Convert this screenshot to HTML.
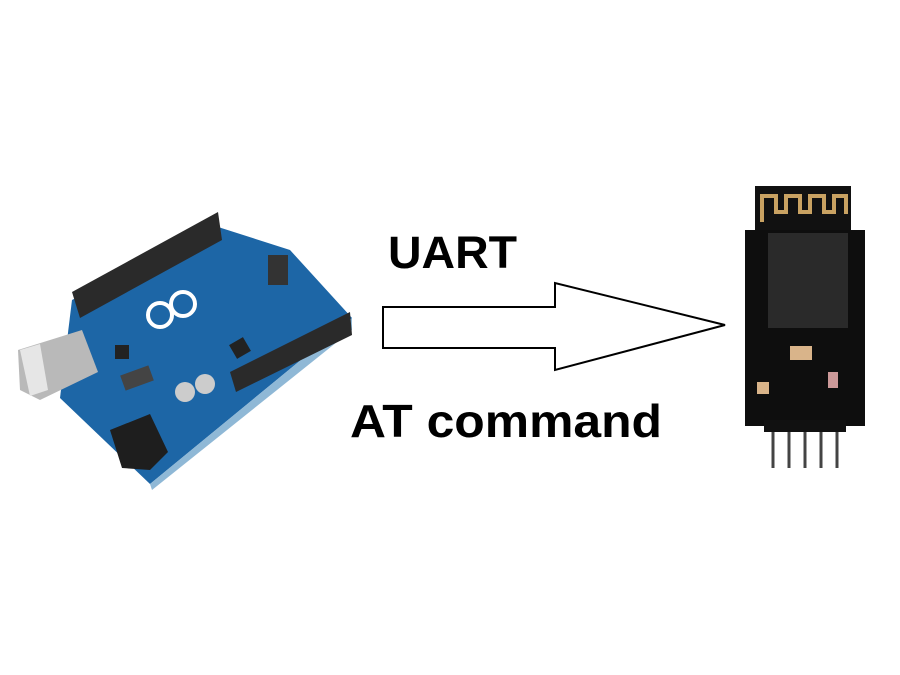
<!DOCTYPE html>
<html><head><meta charset="utf-8"><style>html,body{margin:0;padding:0;background:#fff;}svg{display:block}</style></head>
<body>
<svg width="900" height="675" viewBox="0 0 900 675" xmlns="http://www.w3.org/2000/svg">
<rect width="900" height="675" fill="#fff"/>
<!-- Arduino -->
<polygon points="72,300 215,226 290,250 352,318 150,484 60,398" fill="#1d66a6"/>
<polygon points="150,484 352,318 352,330 152,490" fill="#8fb8d6"/>
<polygon points="72,292 218,212 222,240 80,318" fill="#2a2a2a"/>
<polygon points="230,372 350,312 352,335 236,392" fill="#2a2a2a"/>
<polygon points="18,350 82,330 98,372 40,400 20,390" fill="#b9b9b9"/>
<polygon points="20,350 40,344 48,390 30,396" fill="#e6e6e6"/>
<polygon points="110,430 150,414 168,452 150,470 122,468" fill="#1e1e1e"/>
<rect x="122" y="370" width="30" height="16" fill="#444" transform="rotate(-20 137 378)"/>
<rect x="232" y="340" width="16" height="16" fill="#222" transform="rotate(-30 240 348)"/>
<rect x="115" y="345" width="14" height="14" fill="#222"/>
<circle cx="185" cy="392" r="10" fill="#ccc"/><circle cx="205" cy="384" r="10" fill="#ccc"/>
<circle cx="160" cy="315" r="12" fill="none" stroke="#fff" stroke-width="4"/>
<circle cx="183" cy="304" r="12" fill="none" stroke="#fff" stroke-width="4"/>
<rect x="268" y="255" width="20" height="30" fill="#333"/>
<!-- Arrow -->
<polygon points="383,307 555,307 555,283 725,325 555,370 555,348 383,348" fill="#fff" stroke="#000" stroke-width="2"/>
<text x="388" y="268" font-family="Liberation Sans, sans-serif" font-weight="bold" font-size="45" fill="#000" textLength="129" lengthAdjust="spacingAndGlyphs">UART</text>
<text x="350" y="437" font-family="Liberation Sans, sans-serif" font-weight="bold" font-size="46" fill="#000" textLength="312" lengthAdjust="spacingAndGlyphs">AT command</text>
<!-- Module -->
<rect x="755" y="186" width="96" height="48" fill="#111"/>
<path d="M762,222 V196 H776 V212 H786 V196 H800 V212 H810 V196 H824 V212 H834 V196 H846 V214" fill="none" stroke="#c9a262" stroke-width="4"/>
<rect x="745" y="230" width="120" height="196" fill="#0e0e0e"/>
<rect x="768" y="233" width="80" height="95" fill="#2a2a2a"/>
<rect x="790" y="346" width="22" height="14" fill="#d9b48a"/>
<rect x="757" y="382" width="12" height="12" fill="#d9b48a"/>
<rect x="828" y="372" width="10" height="16" fill="#c99"/>
<g stroke="#444" stroke-width="3">
<line x1="773" y1="424" x2="773" y2="468"/><line x1="789" y1="424" x2="789" y2="468"/><line x1="805" y1="424" x2="805" y2="468"/><line x1="821" y1="424" x2="821" y2="468"/><line x1="837" y1="424" x2="837" y2="468"/>
</g>
<rect x="764" y="420" width="82" height="12" fill="#111"/>
</svg>
</body></html>
